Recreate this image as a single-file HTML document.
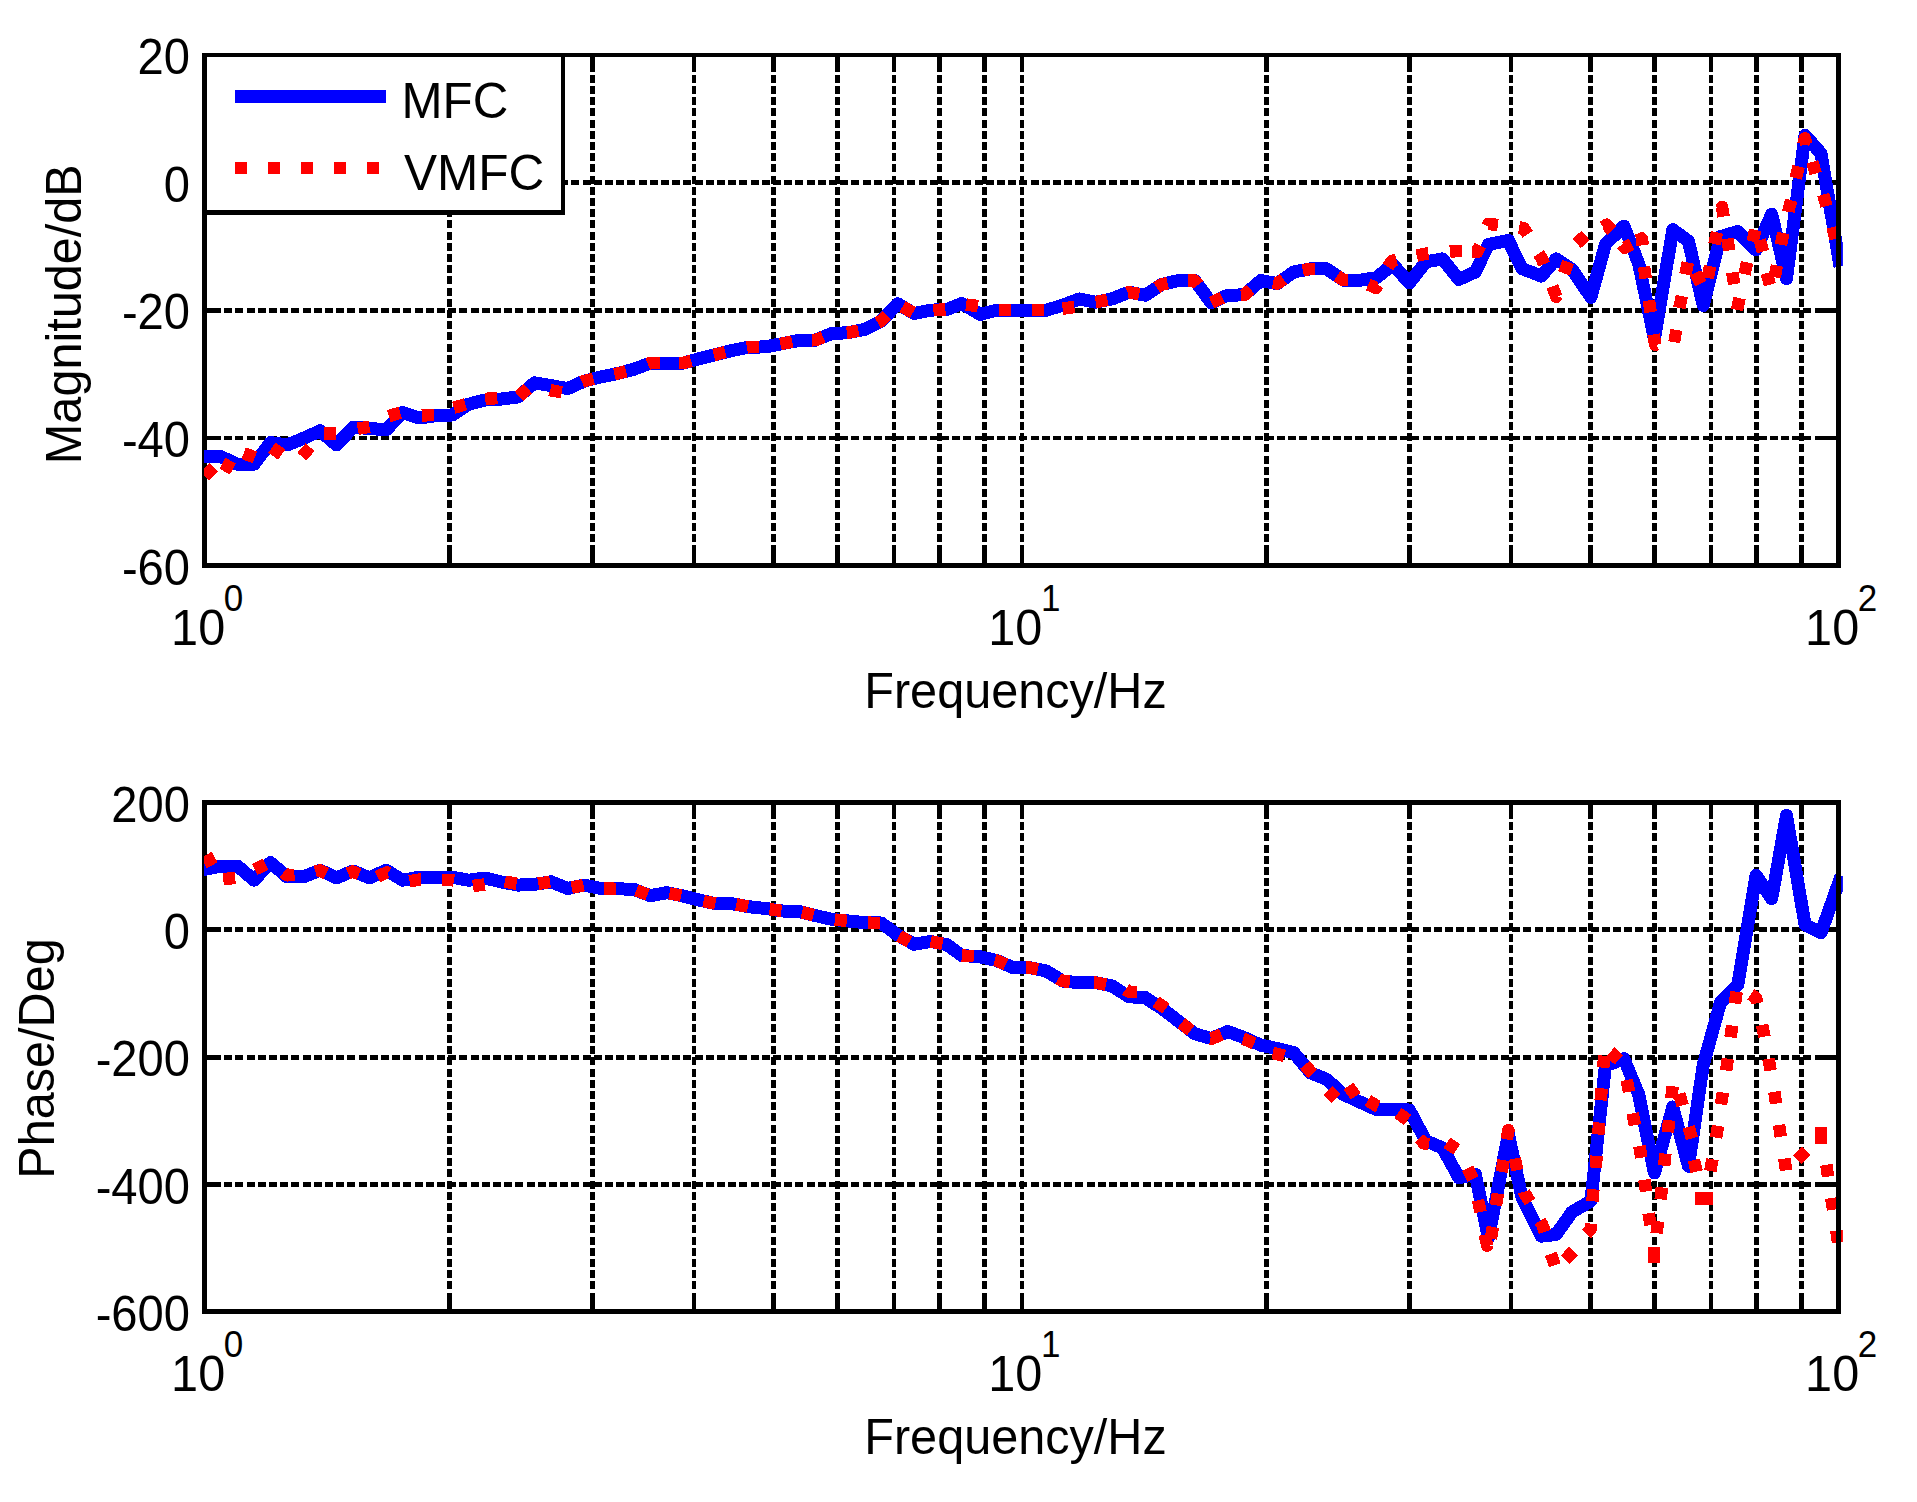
<!DOCTYPE html>
<html><head><meta charset="utf-8"><title>Bode plot</title>
<style>html,body{margin:0;padding:0;background:#fff}svg{display:block}text{font-family:"Liberation Sans",sans-serif;fill:#000}</style></head><body>
<svg width="1917" height="1502" viewBox="0 0 1917 1502" shape-rendering="crispEdges">
<rect width="1917" height="1502" fill="#fff"/>
<g stroke="#000" stroke-width="4.5" fill="none">
<g stroke-dasharray="8 3.2">
<line x1="449.3" y1="74.7" x2="449.3" y2="563.5"/>
<line x1="592.6" y1="74.7" x2="592.6" y2="563.5"/>
<line x1="694.2" y1="74.7" x2="694.2" y2="563.5"/>
<line x1="773.3" y1="74.7" x2="773.3" y2="563.5"/>
<line x1="837.6" y1="74.7" x2="837.6" y2="563.5"/>
<line x1="894.0" y1="74.7" x2="894.0" y2="563.5"/>
<line x1="939.4" y1="74.7" x2="939.4" y2="563.5"/>
<line x1="984.5" y1="74.7" x2="984.5" y2="563.5"/>
<line x1="1022.0" y1="74.7" x2="1022.0" y2="563.5"/>
<line x1="1266.3" y1="74.7" x2="1266.3" y2="563.5"/>
<line x1="1409.6" y1="74.7" x2="1409.6" y2="563.5"/>
<line x1="1511.2" y1="74.7" x2="1511.2" y2="563.5"/>
<line x1="1590.3" y1="74.7" x2="1590.3" y2="563.5"/>
<line x1="1654.6" y1="74.7" x2="1654.6" y2="563.5"/>
<line x1="1711.0" y1="74.7" x2="1711.0" y2="563.5"/>
<line x1="1756.4" y1="74.7" x2="1756.4" y2="563.5"/>
<line x1="1801.5" y1="74.7" x2="1801.5" y2="563.5"/>
<line x1="224.2" y1="182.6" x2="1836.5" y2="182.6"/>
<line x1="224.2" y1="310.3" x2="1836.5" y2="310.3"/>
<line x1="224.2" y1="438.0" x2="1836.5" y2="438.0"/>
</g>
<line x1="449.3" y1="55.0" x2="449.3" y2="71.5"/>
<line x1="449.3" y1="565.5" x2="449.3" y2="549.0"/>
<line x1="592.6" y1="55.0" x2="592.6" y2="71.5"/>
<line x1="592.6" y1="565.5" x2="592.6" y2="549.0"/>
<line x1="694.2" y1="55.0" x2="694.2" y2="71.5"/>
<line x1="694.2" y1="565.5" x2="694.2" y2="549.0"/>
<line x1="773.3" y1="55.0" x2="773.3" y2="71.5"/>
<line x1="773.3" y1="565.5" x2="773.3" y2="549.0"/>
<line x1="837.6" y1="55.0" x2="837.6" y2="71.5"/>
<line x1="837.6" y1="565.5" x2="837.6" y2="549.0"/>
<line x1="894.0" y1="55.0" x2="894.0" y2="71.5"/>
<line x1="894.0" y1="565.5" x2="894.0" y2="549.0"/>
<line x1="939.4" y1="55.0" x2="939.4" y2="71.5"/>
<line x1="939.4" y1="565.5" x2="939.4" y2="549.0"/>
<line x1="984.5" y1="55.0" x2="984.5" y2="71.5"/>
<line x1="984.5" y1="565.5" x2="984.5" y2="549.0"/>
<line x1="1022.0" y1="55.0" x2="1022.0" y2="71.5"/>
<line x1="1022.0" y1="565.5" x2="1022.0" y2="549.0"/>
<line x1="1266.3" y1="55.0" x2="1266.3" y2="71.5"/>
<line x1="1266.3" y1="565.5" x2="1266.3" y2="549.0"/>
<line x1="1409.6" y1="55.0" x2="1409.6" y2="71.5"/>
<line x1="1409.6" y1="565.5" x2="1409.6" y2="549.0"/>
<line x1="1511.2" y1="55.0" x2="1511.2" y2="71.5"/>
<line x1="1511.2" y1="565.5" x2="1511.2" y2="549.0"/>
<line x1="1590.3" y1="55.0" x2="1590.3" y2="71.5"/>
<line x1="1590.3" y1="565.5" x2="1590.3" y2="549.0"/>
<line x1="1654.6" y1="55.0" x2="1654.6" y2="71.5"/>
<line x1="1654.6" y1="565.5" x2="1654.6" y2="549.0"/>
<line x1="1711.0" y1="55.0" x2="1711.0" y2="71.5"/>
<line x1="1711.0" y1="565.5" x2="1711.0" y2="549.0"/>
<line x1="1756.4" y1="55.0" x2="1756.4" y2="71.5"/>
<line x1="1756.4" y1="565.5" x2="1756.4" y2="549.0"/>
<line x1="1801.5" y1="55.0" x2="1801.5" y2="71.5"/>
<line x1="1801.5" y1="565.5" x2="1801.5" y2="549.0"/>
<line x1="204.5" y1="182.6" x2="220.5" y2="182.6"/>
<line x1="1838.5" y1="182.6" x2="1822.5" y2="182.6"/>
<line x1="204.5" y1="310.3" x2="220.5" y2="310.3"/>
<line x1="1838.5" y1="310.3" x2="1822.5" y2="310.3"/>
<line x1="204.5" y1="438.0" x2="220.5" y2="438.0"/>
<line x1="1838.5" y1="438.0" x2="1822.5" y2="438.0"/>
</g>
<path d="M204.5 55.0V565.5H1838.5" fill="none" stroke="#000" stroke-width="4.5" stroke-linecap="square"/>
<clipPath id="c55"><rect x="204" y="52.0" width="1638.9" height="516.5"/></clipPath>
<g clip-path="url(#c55)">
<polyline points="204.5,456.7 221.0,456.7 237.5,464.2 254.0,464.2 270.5,442.5 287.0,445.0 303.5,438.3 320.0,430.8 336.5,445.0 353.0,427.5 369.6,428.3 386.1,430.0 402.6,412.5 419.1,418.0 435.6,415.8 452.1,415.0 468.6,404.2 485.1,400.0 501.6,399.0 518.1,397.0 534.6,382.8 551.1,385.6 567.6,388.6 584.1,381.1 600.6,377.0 617.1,373.6 633.6,369.4 650.1,363.1 666.6,363.1 683.1,363.1 699.7,358.6 716.2,354.4 732.7,350.3 749.2,347.2 765.7,346.9 782.2,343.6 798.7,340.5 815.2,340.2 831.7,333.6 848.2,332.7 864.7,329.4 881.2,321.0 897.7,303.8 914.2,313.5 930.7,310.2 947.2,309.3 961.7,303.5 980.2,314.4 996.7,310.2 1013.2,310.2 1029.8,310.2 1046.3,310.2 1062.8,305.2 1079.3,299.0 1095.8,302.2 1112.3,298.8 1128.8,292.2 1145.3,295.2 1161.8,284.4 1178.3,280.6 1194.8,280.6 1211.3,302.8 1227.8,295.2 1244.3,294.9 1260.8,280.6 1277.3,283.6 1293.8,271.9 1310.3,268.9 1326.8,268.9 1343.3,280.2 1359.9,280.2 1376.4,277.7 1392.9,264.5 1409.4,283.0 1425.9,261.9 1442.4,258.9 1458.9,279.4 1475.4,271.9 1488.4,244.4 1508.4,240.5 1521.9,268.6 1541.4,276.1 1556.1,258.9 1572.0,269.4 1590.9,297.3 1605.4,244.4 1623.9,226.0 1638.7,263.6 1654.4,338.7 1672.8,229.7 1688.5,241.2 1703.2,305.5 1720.5,236.6 1737.7,231.6 1756.0,249.9 1771.7,214.1 1786.5,278.7 1805.0,135.2 1821.0,153.5 1839.0,260.3" fill="none" stroke="#0000ff" stroke-width="13" stroke-linejoin="round" stroke-linecap="square"/>
<path d="M205.0 467.8L213.4 476.2M222.3 463.3L232.9 468.9M243.7 453.2L254.9 457.4M271.9 447.6L281.7 454.6M301.5 448.0L310.5 455.8M324.2 433.6L336.2 433.6M357.7 428.8L369.5 426.6M388.8 416.1L400.2 412.7M421.9 415.6L433.9 414.8M453.8 407.7L465.4 404.3M485.3 398.9L497.3 398.1M518.9 396.3L527.9 388.5M550.0 390.1L550.3 390.2L561.8 392.3M581.9 382.1L584.1 381.1L593.4 378.8M614.4 374.2L617.1 373.6L626.0 371.3M647.8 364.0L650.1 363.1L659.6 363.1M679.4 363.1L683.1 363.1L691.1 360.9M713.7 355.0L716.2 354.4L725.3 352.1M746.9 347.6L749.2 347.2L758.9 347.0M780.4 344.0L782.2 343.6L792.2 341.7M811.7 340.3L815.2 340.2L823.1 337.0M846.7 332.8L848.2 332.7L858.5 330.6M877.7 322.8L881.2 321.0L886.8 315.2M902.5 306.6L912.9 312.7M933.4 310.1L945.4 309.4M966.1 304.5L977.9 306.1M999.3 310.2L1011.3 310.2M1031.9 310.2L1043.9 310.2M1062.6 308.6L1074.4 307.0M1095.6 302.2L1095.8 302.2L1107.4 299.8M1127.6 292.7L1128.8 292.2L1139.3 294.1M1156.8 287.7L1161.8 284.4L1167.6 283.1M1188.3 280.6L1194.8 280.6L1198.1 285.0M1211.5 302.7L1222.3 297.7M1240.7 295.0L1244.3 294.9L1250.6 289.4M1273.0 282.8L1277.3 283.6L1283.5 279.2M1302.8 270.3L1310.3 268.9L1314.7 268.9M1337.1 276.0L1343.3 280.2L1347.8 280.2M1368.3 284.6L1376.0 287.8L1378.0 284.8M1387.8 267.0L1391.6 261.2L1396.5 259.9M1416.7 255.7L1425.8 253.7L1428.5 253.5M1450.0 251.7L1458.9 250.8L1462.0 250.8M1472.2 251.9L1477.3 251.9L1480.3 245.7M1487.3 226.1L1488.4 223.9L1497.9 225.0M1519.1 227.3L1523.6 228.1L1527.7 234.3M1538.6 253.6L1541.8 258.4L1544.0 264.2M1552.4 286.4L1556.4 296.9L1556.6 296.2M1564.1 273.4L1568.1 262.0M1576.7 243.4L1585.7 235.4M1603.1 227.1L1606.8 224.8L1612.0 230.4M1621.8 244.4L1624.7 247.6L1631.6 244.3M1637.2 240.6L1641.8 238.5L1642.8 245.3M1644.0 266.8L1645.8 278.6M1648.9 300.4L1650.7 312.2M1653.6 334.4L1655.2 344.9L1656.4 344.3M1669.4 335.0L1681.2 337.0M1679.4 307.9L1681.8 296.1M1685.4 274.3L1687.8 262.5M1695.6 272.9L1700.8 283.7M1707.6 278.0L1710.2 266.2M1714.4 244.1L1717.0 232.3M1721.5 208.7L1722.0 206.8L1723.6 216.6M1727.3 238.6L1729.3 250.4M1732.3 272.4L1734.3 284.2M1737.0 309.9L1739.6 298.1M1744.5 274.2L1747.1 262.4M1752.6 241.6L1755.2 229.8M1759.8 240.0L1763.0 251.6M1766.7 273.1L1769.9 284.7M1774.7 277.3L1776.9 265.5M1781.0 244.8L1783.2 233.0M1788.3 211.8L1788.5 210.5L1791.2 200.2M1795.7 178.1L1798.7 166.5M1803.3 144.3L1804.8 138.5L1806.5 144.3M1812.3 161.9L1815.7 173.5M1823.3 194.5L1826.5 206.1M1832.4 227.1L1835.6 238.7" fill="none" stroke="#ff0000" stroke-width="12.5" stroke-linejoin="round"/>
</g>
<path d="M204.5 55.0H1838.5V565.5" fill="none" stroke="#000" stroke-width="4.5" stroke-linecap="square"/>
<text transform="translate(190,74.0) scale(0.97,1.042)" font-size="48.6" text-anchor="end">20</text>
<text transform="translate(190,201.6) scale(0.97,1.042)" font-size="48.6" text-anchor="end">0</text>
<text transform="translate(190,329.3) scale(0.97,1.042)" font-size="48.6" text-anchor="end">-20</text>
<text transform="translate(190,457.0) scale(0.97,1.042)" font-size="48.6" text-anchor="end">-40</text>
<text transform="translate(190,584.5) scale(0.97,1.042)" font-size="48.6" text-anchor="end">-60</text>
<text transform="translate(171.1,645.0) scale(1,1.042)" font-size="48.6">10</text>
<text transform="translate(223.8,611.0) scale(1,1.042)" font-size="35">0</text>
<text transform="translate(988.3,645.0) scale(1,1.042)" font-size="48.6">10</text>
<text transform="translate(1041.0,611.0) scale(1,1.042)" font-size="35">1</text>
<text transform="translate(1805.1,645.0) scale(1,1.042)" font-size="48.6">10</text>
<text transform="translate(1857.8,611.0) scale(1,1.042)" font-size="35">2</text>
<text transform="translate(1015.5,707.7) scale(1,1.042)" font-size="48.6" text-anchor="middle">Frequency/Hz</text>
<text transform="translate(80.9,314.2) rotate(-90) scale(1,1.042)" font-size="48.6" text-anchor="middle">Magnitude/dB</text>
<rect x="204.5" y="55" width="358.5" height="157.5" fill="#fff" stroke="#000" stroke-width="4.5"/>
<line x1="235" y1="96.5" x2="386" y2="96.5" stroke="#0000ff" stroke-width="13"/>
<line x1="235" y1="168" x2="386" y2="168" stroke="#ff0000" stroke-width="12.5" stroke-dasharray="12 21"/>
<text transform="translate(401.5,118.4) scale(1.015,1.042)" font-size="48.6">MFC</text>
<text transform="translate(404,189.5) scale(1.02,1.042)" font-size="48.6">VMFC</text>
<g stroke="#000" stroke-width="4.5" fill="none">
<g stroke-dasharray="8 3.2">
<line x1="449.3" y1="822.2" x2="449.3" y2="1309.6"/>
<line x1="592.6" y1="822.2" x2="592.6" y2="1309.6"/>
<line x1="694.2" y1="822.2" x2="694.2" y2="1309.6"/>
<line x1="773.3" y1="822.2" x2="773.3" y2="1309.6"/>
<line x1="837.6" y1="822.2" x2="837.6" y2="1309.6"/>
<line x1="894.0" y1="822.2" x2="894.0" y2="1309.6"/>
<line x1="939.4" y1="822.2" x2="939.4" y2="1309.6"/>
<line x1="984.5" y1="822.2" x2="984.5" y2="1309.6"/>
<line x1="1022.0" y1="822.2" x2="1022.0" y2="1309.6"/>
<line x1="1266.3" y1="822.2" x2="1266.3" y2="1309.6"/>
<line x1="1409.6" y1="822.2" x2="1409.6" y2="1309.6"/>
<line x1="1511.2" y1="822.2" x2="1511.2" y2="1309.6"/>
<line x1="1590.3" y1="822.2" x2="1590.3" y2="1309.6"/>
<line x1="1654.6" y1="822.2" x2="1654.6" y2="1309.6"/>
<line x1="1711.0" y1="822.2" x2="1711.0" y2="1309.6"/>
<line x1="1756.4" y1="822.2" x2="1756.4" y2="1309.6"/>
<line x1="1801.5" y1="822.2" x2="1801.5" y2="1309.6"/>
<line x1="224.2" y1="929.7" x2="1836.5" y2="929.7"/>
<line x1="224.2" y1="1057.4" x2="1836.5" y2="1057.4"/>
<line x1="224.2" y1="1184.5" x2="1836.5" y2="1184.5"/>
</g>
<line x1="449.3" y1="802.5" x2="449.3" y2="819.0"/>
<line x1="449.3" y1="1311.6" x2="449.3" y2="1295.1"/>
<line x1="592.6" y1="802.5" x2="592.6" y2="819.0"/>
<line x1="592.6" y1="1311.6" x2="592.6" y2="1295.1"/>
<line x1="694.2" y1="802.5" x2="694.2" y2="819.0"/>
<line x1="694.2" y1="1311.6" x2="694.2" y2="1295.1"/>
<line x1="773.3" y1="802.5" x2="773.3" y2="819.0"/>
<line x1="773.3" y1="1311.6" x2="773.3" y2="1295.1"/>
<line x1="837.6" y1="802.5" x2="837.6" y2="819.0"/>
<line x1="837.6" y1="1311.6" x2="837.6" y2="1295.1"/>
<line x1="894.0" y1="802.5" x2="894.0" y2="819.0"/>
<line x1="894.0" y1="1311.6" x2="894.0" y2="1295.1"/>
<line x1="939.4" y1="802.5" x2="939.4" y2="819.0"/>
<line x1="939.4" y1="1311.6" x2="939.4" y2="1295.1"/>
<line x1="984.5" y1="802.5" x2="984.5" y2="819.0"/>
<line x1="984.5" y1="1311.6" x2="984.5" y2="1295.1"/>
<line x1="1022.0" y1="802.5" x2="1022.0" y2="819.0"/>
<line x1="1022.0" y1="1311.6" x2="1022.0" y2="1295.1"/>
<line x1="1266.3" y1="802.5" x2="1266.3" y2="819.0"/>
<line x1="1266.3" y1="1311.6" x2="1266.3" y2="1295.1"/>
<line x1="1409.6" y1="802.5" x2="1409.6" y2="819.0"/>
<line x1="1409.6" y1="1311.6" x2="1409.6" y2="1295.1"/>
<line x1="1511.2" y1="802.5" x2="1511.2" y2="819.0"/>
<line x1="1511.2" y1="1311.6" x2="1511.2" y2="1295.1"/>
<line x1="1590.3" y1="802.5" x2="1590.3" y2="819.0"/>
<line x1="1590.3" y1="1311.6" x2="1590.3" y2="1295.1"/>
<line x1="1654.6" y1="802.5" x2="1654.6" y2="819.0"/>
<line x1="1654.6" y1="1311.6" x2="1654.6" y2="1295.1"/>
<line x1="1711.0" y1="802.5" x2="1711.0" y2="819.0"/>
<line x1="1711.0" y1="1311.6" x2="1711.0" y2="1295.1"/>
<line x1="1756.4" y1="802.5" x2="1756.4" y2="819.0"/>
<line x1="1756.4" y1="1311.6" x2="1756.4" y2="1295.1"/>
<line x1="1801.5" y1="802.5" x2="1801.5" y2="819.0"/>
<line x1="1801.5" y1="1311.6" x2="1801.5" y2="1295.1"/>
<line x1="204.5" y1="929.7" x2="220.5" y2="929.7"/>
<line x1="1838.5" y1="929.7" x2="1822.5" y2="929.7"/>
<line x1="204.5" y1="1057.4" x2="220.5" y2="1057.4"/>
<line x1="1838.5" y1="1057.4" x2="1822.5" y2="1057.4"/>
<line x1="204.5" y1="1184.5" x2="220.5" y2="1184.5"/>
<line x1="1838.5" y1="1184.5" x2="1822.5" y2="1184.5"/>
</g>
<path d="M204.5 802.5V1311.6H1838.5" fill="none" stroke="#000" stroke-width="4.5" stroke-linecap="square"/>
<clipPath id="c802"><rect x="204" y="799.5" width="1638.9" height="515.1"/></clipPath>
<g clip-path="url(#c802)">
<polyline points="204.5,869.3 221.0,866.0 237.5,866.0 254.0,880.2 270.5,862.6 287.0,876.8 303.5,876.8 320.0,870.2 336.5,877.8 353.0,871.0 369.6,877.8 386.1,870.2 402.6,880.2 419.1,877.2 435.6,877.2 452.1,877.2 468.6,880.2 485.1,878.0 501.6,882.0 518.1,885.1 534.6,884.3 551.1,881.8 567.6,888.5 584.1,885.1 600.6,888.5 617.1,888.8 633.6,889.3 650.1,895.7 666.6,892.7 683.1,896.0 699.7,900.2 716.2,903.8 732.7,903.8 749.2,906.8 765.7,908.5 782.2,911.0 798.7,911.4 815.2,915.5 831.7,919.3 848.2,921.0 864.7,922.6 881.2,923.0 897.7,935.1 914.2,944.3 930.7,941.5 947.2,944.7 961.7,955.5 980.2,956.8 996.7,960.5 1013.2,967.7 1029.8,967.7 1046.3,971.0 1062.8,981.1 1079.3,982.7 1095.8,982.7 1112.3,986.0 1128.8,996.8 1145.3,997.6 1161.8,1008.5 1178.3,1021.0 1194.8,1033.8 1211.3,1038.5 1227.8,1031.5 1244.3,1037.7 1260.8,1045.2 1277.3,1048.5 1293.8,1052.7 1310.3,1072.7 1326.8,1079.4 1343.3,1094.4 1359.9,1102.0 1376.4,1109.5 1392.9,1109.8 1409.4,1110.0 1425.9,1141.0 1442.4,1147.7 1458.9,1177.7 1475.4,1174.4 1488.4,1237.8 1508.4,1134.3 1521.9,1197.0 1541.4,1236.2 1556.1,1234.5 1572.0,1212.0 1590.9,1201.1 1605.4,1065.9 1623.9,1058.7 1638.7,1094.3 1654.4,1173.0 1672.8,1107.0 1688.5,1166.3 1703.2,1065.0 1720.5,1002.6 1737.7,985.0 1756.0,875.1 1771.7,898.7 1786.5,815.4 1805.0,924.6 1821.0,932.7 1839.0,882.0" fill="none" stroke="#0000ff" stroke-width="13" stroke-linejoin="round" stroke-linecap="square"/>
<path d="M206.2 854.9L212.2 865.3M223.2 879.2L235.2 877.8M254.7 869.4L265.5 864.2M283.5 872.5L287.0 875.3L294.5 874.8M315.3 871.6L319.8 870.4L326.4 873.6M348.1 873.5L352.8 871.5L359.1 874.1M377.4 876.8L387.0 872.3L388.2 873.0M409.5 881.3L419.5 879.5L421.3 879.5M441.9 880.2L452.1 880.2L453.9 880.5M472.9 886.0L484.7 884.4M504.8 881.6L516.6 883.8M538.3 883.7L550.1 881.9M571.7 887.7L583.5 885.2M604.2 888.6L616.2 888.8M636.3 890.3L647.5 894.7M669.4 893.3L681.2 895.6M703.6 901.1L715.4 903.6M736.2 904.4L748.0 906.6M769.6 909.1L781.4 910.9M802.0 912.2L813.6 915.1M834.9 919.6L846.9 920.9M868.3 922.7L880.3 923.0M899.1 935.9L909.5 941.7M930.7 941.5L942.5 943.8M961.8 955.5L973.8 956.3M994.7 960.0L996.7 960.5L1005.8 964.5M1026.0 967.7L1029.8 967.7L1037.9 969.3M1058.5 978.5L1062.8 981.1L1069.8 981.8M1094.1 982.7L1095.8 982.7L1105.9 984.7M1125.6 989.4L1129.0 991.7L1136.9 992.1M1155.9 1001.8L1163.1 1006.5L1165.8 1008.6M1181.3 1023.1L1190.7 1030.5M1210.4 1038.5L1211.4 1038.7L1221.5 1034.5M1243.1 1038.6L1243.8 1038.8L1254.1 1043.5M1272.7 1053.1L1276.0 1053.7L1284.4 1055.9M1304.9 1064.8L1311.0 1072.2L1312.8 1073.8M1327.9 1090.2L1336.3 1098.6M1347.2 1094.5L1357.0 1087.7M1367.9 1100.5L1376.1 1105.5L1378.3 1106.4M1397.9 1113.0L1407.7 1120.0M1419.4 1138.2L1424.1 1143.5L1429.0 1144.2M1446.8 1142.7L1456.8 1149.3M1467.4 1168.3L1473.0 1178.9M1478.0 1200.2L1480.6 1212.0M1484.7 1234.5L1487.2 1245.7L1487.3 1245.1M1490.9 1238.7L1492.9 1226.9M1495.9 1205.3L1497.9 1193.5M1501.7 1172.0L1503.7 1160.2M1506.7 1139.4L1508.3 1130.2L1508.8 1132.8M1514.9 1158.5L1517.3 1170.3M1524.0 1191.7L1524.3 1192.9L1530.2 1201.9M1540.0 1220.9L1542.1 1224.3L1544.8 1231.9M1550.8 1253.8L1554.8 1265.2M1565.3 1259.7L1573.2 1251.5L1573.6 1251.1M1586.4 1233.9L1590.6 1229.2L1591.1 1223.6M1592.4 1201.3L1593.4 1189.3M1595.7 1167.9L1596.7 1155.9M1598.2 1134.5L1599.2 1122.5M1600.7 1100.3L1601.7 1088.3M1603.2 1067.7L1604.2 1055.7M1610.3 1051.8L1618.9 1060.0M1626.8 1080.0L1629.0 1091.8M1632.7 1113.4L1634.9 1125.2M1639.3 1146.0L1640.4 1151.7L1641.3 1157.8M1644.3 1179.7L1646.1 1191.5M1648.6 1213.3L1650.4 1225.1M1654.0 1246.5L1654.0 1262.7M1656.7 1233.3L1657.9 1221.3M1660.7 1199.4L1661.9 1187.4M1664.2 1165.7L1665.4 1153.7M1667.9 1132.2L1669.1 1120.2M1671.4 1098.3L1672.6 1086.3M1679.3 1093.8L1682.7 1105.4M1688.6 1126.8L1692.0 1138.4M1693.9 1160.1L1696.7 1171.7M1694.5 1198.6L1712.6 1198.6M1710.4 1171.0L1712.4 1159.2M1716.0 1137.7L1718.0 1125.9M1721.0 1104.3L1721.7 1100.2L1722.9 1092.5M1726.1 1070.5L1727.9 1058.7M1730.5 1037.3L1732.3 1025.5M1734.9 1003.5L1736.7 991.7M1750.8 994.3L1756.1 997.8L1757.2 1003.3M1762.2 1024.9L1764.4 1036.7M1768.5 1058.7L1770.7 1070.5M1774.3 1091.8L1776.1 1103.6M1779.0 1124.9L1780.8 1136.7M1784.3 1158.6L1786.1 1170.4M1797.3 1151.1L1805.7 1159.5M1821.0 1127.0L1821.0 1144.0M1826.3 1164.8L1828.1 1176.6M1831.3 1198.0L1833.1 1209.8M1836.3 1230.6L1838.1 1242.4" fill="none" stroke="#ff0000" stroke-width="12.5" stroke-linejoin="round"/>
</g>
<path d="M204.5 802.5H1838.5V1311.6" fill="none" stroke="#000" stroke-width="4.5" stroke-linecap="square"/>
<text transform="translate(190,821.5) scale(0.97,1.042)" font-size="48.6" text-anchor="end">200</text>
<text transform="translate(190,948.7) scale(0.97,1.042)" font-size="48.6" text-anchor="end">0</text>
<text transform="translate(190,1076.4) scale(0.97,1.042)" font-size="48.6" text-anchor="end">-200</text>
<text transform="translate(190,1203.5) scale(0.97,1.042)" font-size="48.6" text-anchor="end">-400</text>
<text transform="translate(190,1330.6) scale(0.97,1.042)" font-size="48.6" text-anchor="end">-600</text>
<text transform="translate(171.1,1391.1) scale(1,1.042)" font-size="48.6">10</text>
<text transform="translate(223.8,1357.1) scale(1,1.042)" font-size="35">0</text>
<text transform="translate(988.3,1391.1) scale(1,1.042)" font-size="48.6">10</text>
<text transform="translate(1041.0,1357.1) scale(1,1.042)" font-size="35">1</text>
<text transform="translate(1805.1,1391.1) scale(1,1.042)" font-size="48.6">10</text>
<text transform="translate(1857.8,1357.1) scale(1,1.042)" font-size="35">2</text>
<text transform="translate(1015.5,1453.8) scale(1,1.042)" font-size="48.6" text-anchor="middle">Frequency/Hz</text>
<text transform="translate(53.5,1058.5) rotate(-90) scale(1,1.042)" font-size="48.6" text-anchor="middle">Phase/Deg</text>
</svg></body></html>
